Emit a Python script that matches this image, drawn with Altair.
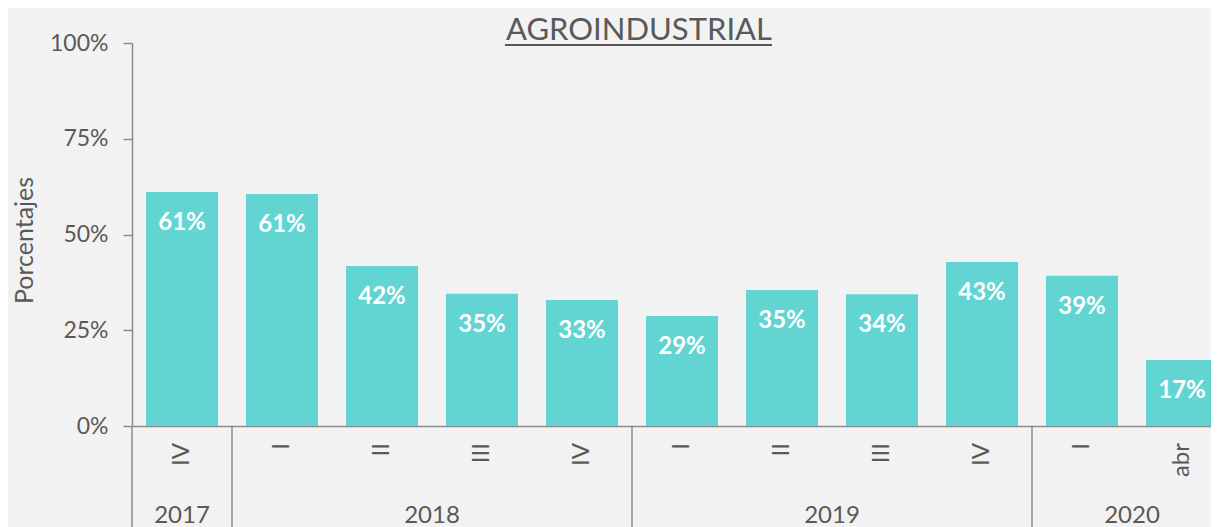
import altair as alt
import pandas as pd

periods = ["IV", "I", "II", "III", "IV", "I", "II", "III", "IV", "I", "abr"]
years = ["2017", "2018", "2018", "2018", "2018", "2019", "2019", "2019", "2019", "2020", "2020"]
values = [0.611, 0.606, 0.418, 0.345, 0.329, 0.287, 0.355, 0.344, 0.428, 0.392, 0.172]
labels = ["61%", "61%", "42%", "35%", "33%", "29%", "35%", "34%", "43%", "39%", "17%"]
title_text = "AGROINDUSTRIAL"

BAR = "#62D5D3"
TXT = "#595959"
AX = "#8C8C8C"
FONT = "Lato"

df = pd.DataFrame({"idx": range(len(values)), "period": periods, "year": years,
                   "value": values, "label": labels})

grp = df.groupby("year", sort=False)["idx"].agg(["min", "max"]).reset_index()
grp["center"] = (grp["min"] + grp["max"]) / 2
seps = pd.DataFrame({"pos": [grp["min"].iloc[0] - 0.5] + list(grp["max"] + 0.5)[:-1]})

W, H = 1079, 383
xs = alt.Scale(domain=[-0.5, 10.29], nice=False, zero=False)
ys = alt.Scale(domain=[0, 1], nice=False)

base = alt.Chart(df)

bars = base.transform_calculate(x0="datum.idx - 0.36", x1="datum.idx + 0.36").mark_bar(color=BAR).encode(
    x=alt.X("x0:Q", scale=xs, axis=alt.Axis(labels=False, ticks=False, title=None, grid=False,
                                             domainColor=AX, domainWidth=1.5)),
    x2="x1:Q",
    y=alt.Y("value:Q", scale=ys, axis=alt.Axis(values=[0, 0.25, 0.5, 0.75, 1], format=".0%", grid=False,
                                               domainColor=AX, domainWidth=1.5, tickColor=AX, tickWidth=1.5,
                                               tickSize=9, labelFont=FONT, labelFontSize=23,
                                               labelColor=TXT, labelPadding=15, title="Porcentajes",
                                               titleFont=FONT, titleFontSize=25, titleFontWeight="normal",
                                               titleColor=TXT, titlePadding=12, titleY=197)),
    y2=alt.datum(0),
)

bar_labels = base.mark_text(color="white", font=FONT, fontSize=24, fontWeight="bold",
                            baseline="middle", dy=31).encode(
    x=alt.X("idx:Q", scale=xs), y=alt.Y("value:Q", scale=ys), text="label:N")

period_labels = base.mark_text(color=TXT, font=FONT, fontSize=24, angle=270, align="right",
                               baseline="middle").encode(
    x=alt.X("idx:Q", scale=xs), y=alt.value(H + 17), text="period:N")

year_labels = alt.Chart(grp).mark_text(color=TXT, font=FONT, fontSize=24, baseline="middle").encode(
    x=alt.X("center:Q", scale=xs), y=alt.value(H + 90), text="year:N")

sep_rules = alt.Chart(seps).mark_rule(color=AX, strokeWidth=1.5).encode(
    x=alt.X("pos:Q", scale=xs), y=alt.value(H), y2=alt.value(H + 101))

title_df = pd.DataFrame({"t": [title_text]})
title_mark = alt.Chart(title_df).mark_text(color=TXT, font=FONT, fontSize=31, align="center",
                                           baseline="alphabetic").encode(
    x=alt.value(507), y=alt.value(-3), text="t:N")

underline = alt.Chart(title_df).mark_rule(color=TXT, strokeWidth=2).encode(
    x=alt.value(373), x2=alt.value(640), y=alt.value(2))

chart = alt.layer(bars, bar_labels, period_labels, year_labels, sep_rules, title_mark, underline).properties(
    width=W, height=H,
    autosize=alt.AutoSizeParams(type="none"),
    padding={"left": 124, "top": 35, "right": 0, "bottom": 101},
    background="#F2F2F2",
).configure_view(stroke=None)

chart.save("out.html", embed_options={"renderer": "svg", "actions": False})
